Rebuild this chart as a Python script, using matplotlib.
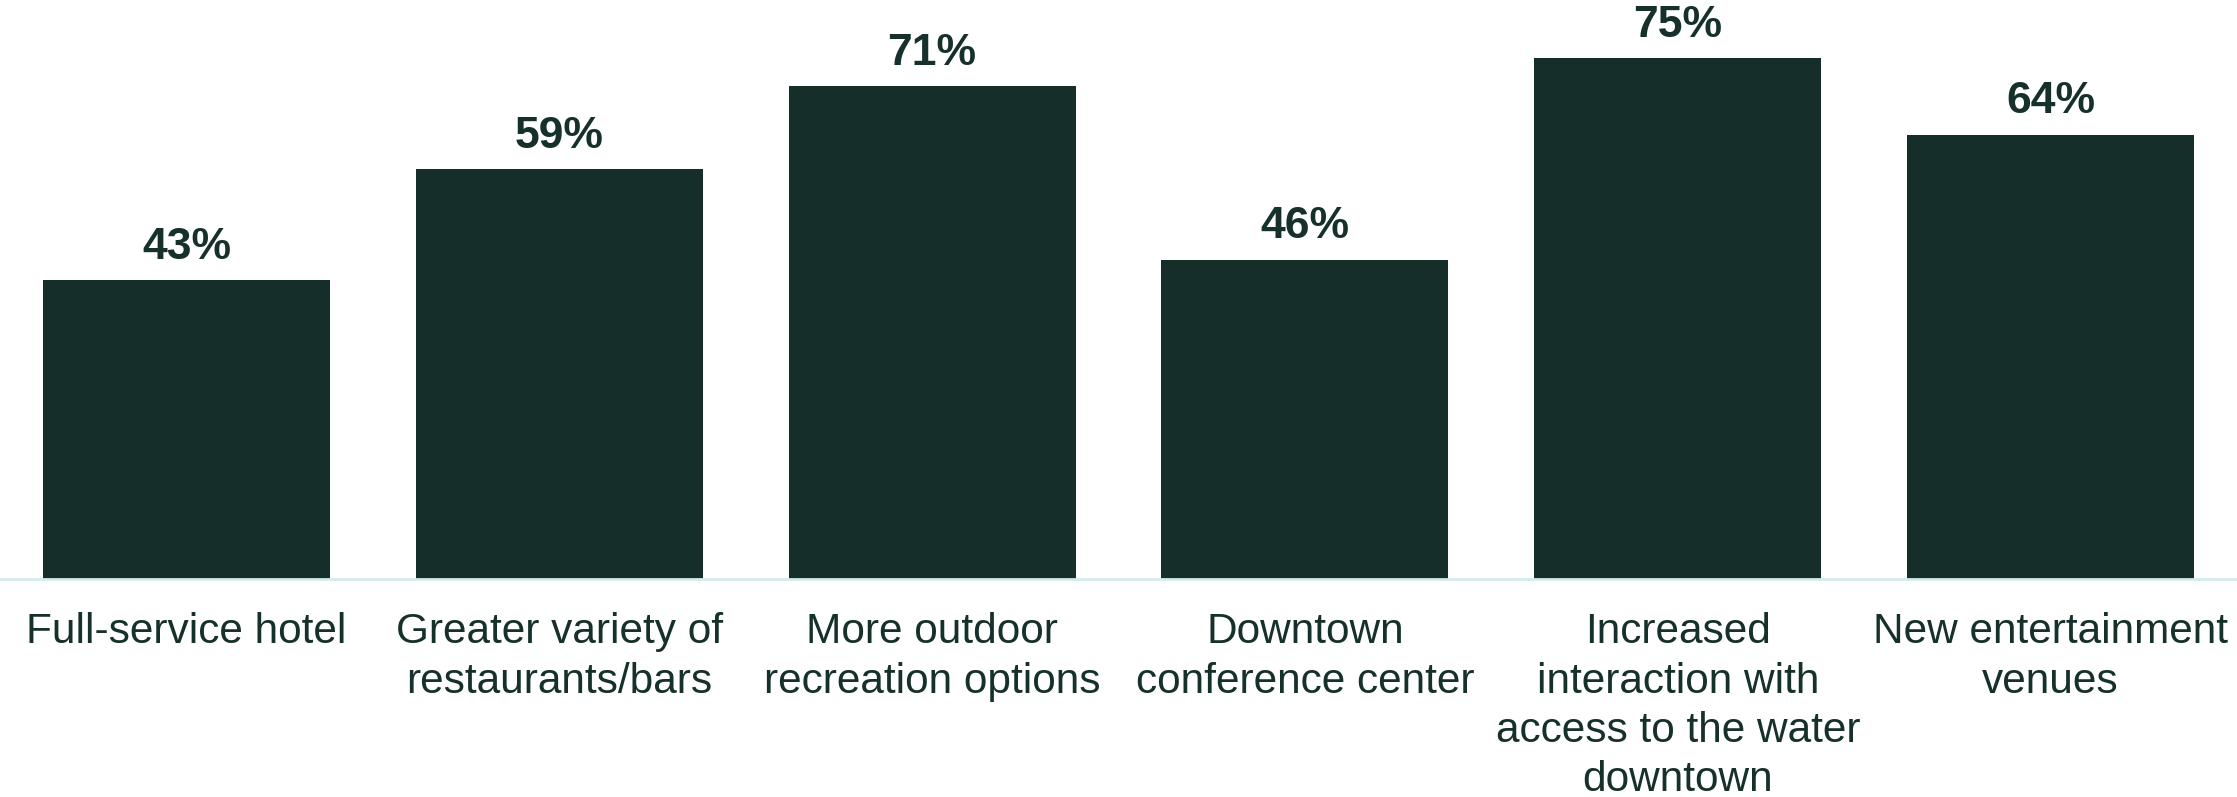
import matplotlib
import matplotlib.pyplot as plt

matplotlib.use('Agg')

categories = ['Full-service hotel',
              'Greater variety of\nrestaurants/bars',
              'More outdoor\nrecreation options',
              'Downtown\nconference center',
              'Increased\ninteraction with\naccess to the water\ndowntown',
              'New entertainment\nvenues']
values = [43, 59, 71, 46, 75, 64]

bar_color = '#162e2a'
text_color = '#16302b'
base_color = '#d3ecea'

plt.rcParams['font.family'] = ['Liberation Sans', 'DejaVu Sans']

fig = plt.figure(figsize=(22.37, 7.97), dpi=100)
ax = fig.add_axes([0, 0.2735, 1, 0.7265])

x = range(len(values))
bars = ax.bar(x, values, width=0.77, color=bar_color)
for b, v in zip(bars, values):
    ax.annotate('%d%%' % v, (b.get_x() + b.get_width() / 2, v),
                xytext=(0, 9), textcoords='offset points',
                ha='center', va='bottom', fontsize=32, fontweight='bold',
                color=text_color)

ax.set_xlim(-0.5, len(values) - 0.5)
ax.set_ylim(0, 83.4)
ax.set_xticks(list(x))
ax.set_xticklabels(categories, fontsize=30.5, color=text_color,
                   linespacing=1.3)
ax.tick_params(axis='x', length=0, pad=24)
ax.set_yticks([])
for side in ('top', 'right', 'left'):
    ax.spines[side].set_visible(False)
ax.spines['bottom'].set_color(base_color)
ax.spines['bottom'].set_linewidth(2)

fig.savefig('out.png', dpi=100)
plt.close()
